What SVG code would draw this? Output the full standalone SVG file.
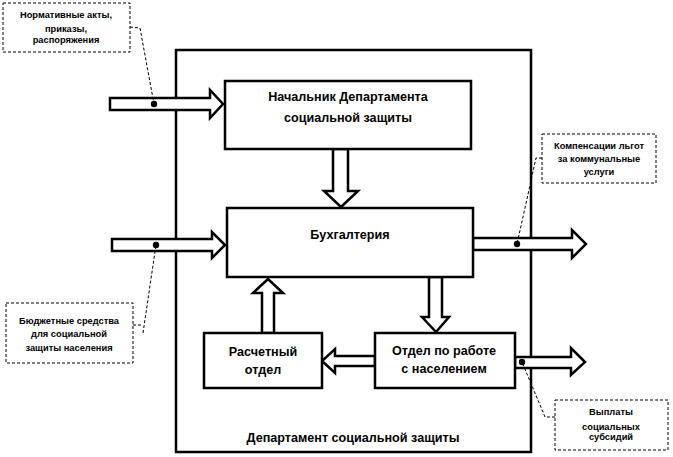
<svg xmlns="http://www.w3.org/2000/svg" width="673" height="457" viewBox="0 0 673 457">
<style>
.box{fill:#fff;stroke:#000;stroke-width:2.5}
.frame{fill:none;stroke:#000;stroke-width:2.5}
.arr{fill:#fff;stroke:#000;stroke-width:2.5;stroke-linejoin:miter}
.note{fill:#fff;stroke:#000;stroke-width:1;stroke-dasharray:3,2}
.lead{fill:none;stroke:#000;stroke-width:1;stroke-dasharray:3,2}
.t{font-family:"Liberation Sans",Arial,sans-serif;font-weight:bold;font-size:12.6px;text-anchor:middle;fill:#000}
.n{font-family:"Liberation Sans",Arial,sans-serif;font-weight:bold;font-size:9.3px;text-anchor:middle;fill:#000}
</style>
<rect width="673" height="457" fill="#fff"/>
<g id="frame">
<rect class="frame" x="176" y="50" width="355" height="402"/>
<text class="t" x="353" y="442">Департамент социальной защиты</text>
</g>
<g id="connectors">
<polygon class="arr" points="110,98 210,98 210,90 223,104 210,118 210,110 110,110"/>
<polygon class="arr" points="112,239 212,239 212,232 225,245 212,258 212,251 112,251"/>
<polygon class="arr" points="473,238 572,238 572,230 586,244 572,258 572,250 473,250"/>
<polygon class="arr" points="515,357 571,357 571,348 585,362 571,375 571,368 515,368"/>
<polygon class="arr" points="333,149 348,149 348,191 358,191 341,207 324,191 333,191"/>
<polygon class="arr" points="429,277 442,277 442,317 449,317 436,332 422,317 429,317"/>
<polygon class="arr" points="262,333 274,333 274,293 283,293 268,279 253,293 262,293"/>
<polygon class="arr" points="375,356 335,356 335,349 322,361 335,373 335,366 375,366"/>
<circle cx="154" cy="104" r="3.2"/>
<circle cx="156" cy="245" r="3.2"/>
<circle cx="517" cy="244" r="3.2"/>
<circle cx="522" cy="362" r="3.2"/>
<polyline class="lead" points="130,27 140,28 154,104"/>
<polyline class="lead" points="542,158 536,158 517,244"/>
<polyline class="lead" points="133,325 143,325"/>
<polyline class="lead" points="143,333 156,245"/>
<polyline class="lead" points="555,417 545,417 522,362"/>
</g>
<g id="chief">
<rect class="box" x="225" y="81" width="246" height="68"/>
<text class="t" x="348" y="101">Начальник Департамента</text>
<text class="t" x="348" y="122">социальной защиты</text>
</g>
<g id="accounting">
<rect class="box" x="227" y="208" width="246" height="69"/>
<text class="t" x="350" y="239">Бухгалтерия</text>
</g>
<g id="calc">
<rect class="box" x="204" y="333" width="118" height="55"/>
<text class="t" x="263" y="356">Расчетный</text>
<text class="t" x="263" y="374">отдел</text>
</g>
<g id="population">
<rect class="box" x="375" y="333" width="140" height="55"/>
<text class="t" x="444" y="355">Отдел по работе</text>
<text class="t" x="444" y="373">с населением</text>
</g>
<g id="note-acts">
<rect class="note" x="3" y="3" width="127" height="49"/>
<text class="n" x="66" y="18">Нормативные акты,</text>
<text class="n" x="66" y="32">приказы,</text>
<text class="n" x="66" y="43">распоряжения</text>
</g>
<g id="note-comp">
<rect class="note" x="542" y="134" width="114" height="49"/>
<text class="n" x="599" y="149">Компенсации льгот</text>
<text class="n" x="599" y="162">за коммунальные</text>
<text class="n" x="599" y="175">услуги</text>
</g>
<g id="note-budget">
<rect class="note" x="6" y="303" width="127" height="60"/>
<text class="n" x="69" y="324">Бюджетные средства</text>
<text class="n" x="69" y="337">для социальной</text>
<text class="n" x="69" y="351">защиты населения</text>
</g>
<g id="note-pay">
<rect class="note" x="555" y="400" width="113" height="50"/>
<text class="n" x="611" y="415">Выплаты</text>
<text class="n" x="611" y="430">социальных</text>
<text class="n" x="611" y="440">субсидий</text>
</g>
</svg>
